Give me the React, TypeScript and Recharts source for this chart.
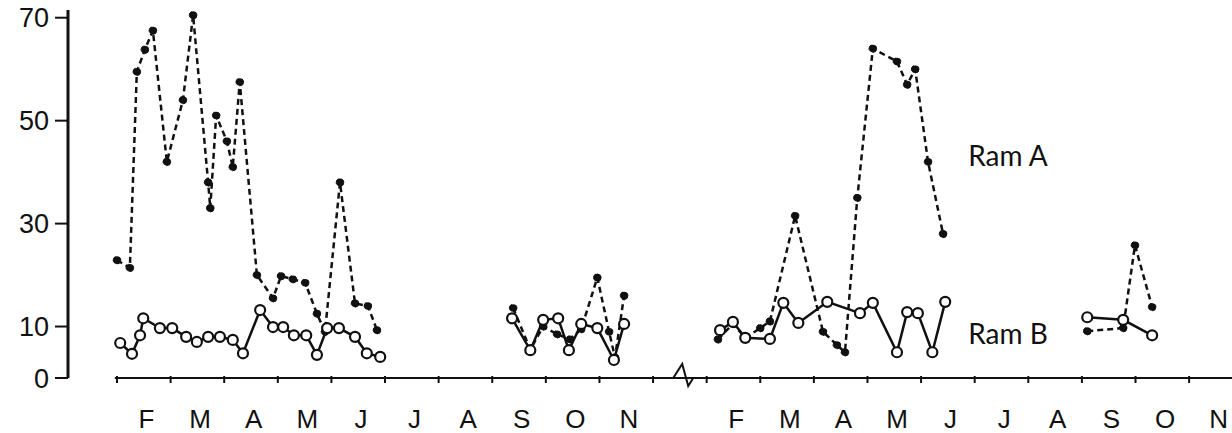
import React from 'react';
import { LineChart, Line, XAxis, YAxis, ReferenceLine, ReferenceDot } from 'recharts';

// x positions are in months counted from 1 Feb of the first season;
// the second season starts at 11 (after the axis break). null = no samples.
const ramAPos = [
  0.0, 0.24, 0.37, 0.52, 0.67, 0.93, 1.23, 1.42, 1.7, 1.74, 1.85, 2.05, 2.16, 2.29, 2.61,
  2.91, 3.06, 3.28, 3.51, 3.73, 3.88, 4.16, 4.44, 4.68, 4.85,
  6.0,
  7.39, 7.71, 7.95, 8.21, 8.45, 8.66, 8.96, 9.18, 9.29, 9.46,
  10.3,
  11.21, 11.49, 11.72, 12.0, 12.18, 12.65, 13.17, 13.43, 13.58, 13.81, 14.1, 14.55, 14.74, 14.89, 15.13, 15.41,
  17.0,
  18.1, 18.77, 18.99, 19.31,
];
const ramAVal = [
  22.9, 21.4, 59.5, 63.8, 67.5, 42, 54, 70.5, 38, 33, 51, 46, 41, 57.5, 20,
  15.5, 19.8, 19.2, 18.5, 12.5, 9, 38, 14.5, 14, 9.3,
  null,
  13.6, 5.5, 10, 8.5, 7.5, 9.5, 19.5, 9, 4, 16,
  null,
  7.5, 10.5, 7.8, 9.7, 11, 31.5, 9, 6.4, 5, 35, 64, 61.5, 57, 60, 42, 28,
  null,
  9.1, 9.7, 25.8, 13.8,
];

const ramBPos = [
  0.06, 0.28, 0.43, 0.49, 0.8, 1.03, 1.29, 1.49, 1.7, 1.92, 2.16, 2.35, 2.67, 2.91, 3.1,
  3.3, 3.53, 3.73, 3.92, 4.14, 4.44, 4.66, 4.91,
  6.0,
  7.37, 7.71, 7.95, 8.23, 8.43, 8.66, 8.96, 9.27, 9.46,
  10.3,
  11.25, 11.49, 11.72, 12.18, 12.43, 12.71, 13.25, 13.86, 14.1, 14.55, 14.74, 14.94, 15.21, 15.45,
  17.0,
  18.1, 18.77, 19.31,
];
const ramBVal = [
  6.8, 4.7, 8.3, 11.6, 9.7, 9.7, 8.0, 7.0, 8.0, 8.0, 7.4, 4.8, 13.2, 9.9, 9.9,
  8.3, 8.3, 4.5, 9.7, 9.7, 8.0, 4.8, 4.1,
  null,
  11.6, 5.4, 11.3, 11.6, 5.4, 10.5, 9.7, 3.5, 10.5,
  null,
  9.3, 10.9, 7.8, 7.6, 14.6, 10.7, 14.8, 12.6, 14.6, 5.0, 12.8, 12.6, 5.0, 14.8,
  null,
  11.8, 11.3, 8.3,
];

const monthLabels = ['F', 'M', 'A', 'M', 'J', 'J', 'A', 'S', 'O', 'N'];
const seasonStarts = [0, 11];
const yTicks = [0, 10, 30, 50, 70];

const ramAData = ramAPos.map((x, i) => ({ x, v: ramAVal[i] }));
const ramBData = ramBPos.map((x, i) => ({ x, v: ramBVal[i] }));

const labelAt: Record<string, string> = {};
const xTicks: number[] = [];
seasonStarts.forEach((s, si) => {
  const last = si === 0 ? 10 : 9;
  for (let k = 0; k <= last; k++) xTicks.push(s + k);
  monthLabels.forEach((m, k) => {
    const p = s + k + 0.55;
    labelAt[p.toFixed(2)] = m;
    xTicks.push(p);
  });
});
xTicks.sort((a, b) => a - b);

const ink = '#111';
const font = '"Liberation Sans", Arial, sans-serif';

const MonthTick = (props: any) => {
  const { x, y, payload } = props;
  const v = payload.value;
  if (Number.isInteger(v)) {
    return <line x1={x} x2={x} y1={y - 2} y2={y + 5} stroke={ink} strokeWidth={2} />;
  }
  return (
    <text x={x} y={y + 50} textAnchor="middle" fontSize={26} fontFamily={font} fill={ink}>
      {labelAt[v.toFixed(2)]}
    </text>
  );
};

const BreakMark = (props: any) => {
  const { cx, cy } = props;
  return (
    <path
      d={`M${cx - 12},${cy} L${cx - 3},${cy - 14} L${cx + 3},${cy + 8} L${cx + 8},${cy}`}
      fill="none"
      stroke={ink}
      strokeWidth={2}
    />
  );
};

const SeriesName = (text: string) => (props: any) => (
  <text x={props.cx} y={props.cy} fontSize={28} fontFamily="Lato, sans-serif" fill={ink}>
    {text}
  </text>
);

export default function App() {
  return (
    <div style={{ position: 'absolute', left: 0, top: 0, background: '#fff' }}>
      <LineChart width={1232} height={433} margin={{ top: 10, right: 0, bottom: 0, left: 0 }}>
        <XAxis
          dataKey="x"
          type="number"
          domain={[-0.914, 20.8]}
          allowDataOverflow
          ticks={xTicks}
          interval={0}
          axisLine={false}
          tickLine={false}
          tickSize={0}
          tickMargin={0}
          height={55}
          tick={<MonthTick />}
        />
        <YAxis
          type="number"
          domain={[0, 71.5]}
          ticks={yTicks}
          width={68}
          axisLine={{ stroke: ink, strokeWidth: 3 }}
          tickLine={{ stroke: ink, strokeWidth: 2 }}
          tickSize={13}
          tickMargin={6}
          tick={{ fontSize: 27, fontFamily: font, fill: ink }}
        />
        <ReferenceLine
          segment={[{ x: -0.04, y: 0 }, { x: 20.8, y: 0 }]}
          stroke={ink}
          strokeWidth={2}
          ifOverflow="visible"
        />
        <ReferenceDot x={10.6} y={0} r={0} shape={<BreakMark />} ifOverflow="visible" />
        <Line
          data={ramAData}
          dataKey="v"
          type="linear"
          stroke={ink}
          strokeWidth={2.5}
          strokeDasharray="6 4"
          dot={{ r: 3.8, fill: ink, stroke: ink, strokeWidth: 1 }}
          activeDot={false}
          isAnimationActive={false}
        />
        <Line
          data={ramBData}
          dataKey="v"
          type="linear"
          stroke={ink}
          strokeWidth={2.5}
          dot={{ r: 5, fill: '#fff', stroke: ink, strokeWidth: 2.2 }}
          activeDot={false}
          isAnimationActive={false}
        />
        <ReferenceDot x={15.88} y={41.2} r={0} shape={SeriesName('Ram A')} ifOverflow="visible" />
        <ReferenceDot x={15.88} y={6.6} r={0} shape={SeriesName('Ram B')} ifOverflow="visible" />
      </LineChart>
    </div>
  );
}
